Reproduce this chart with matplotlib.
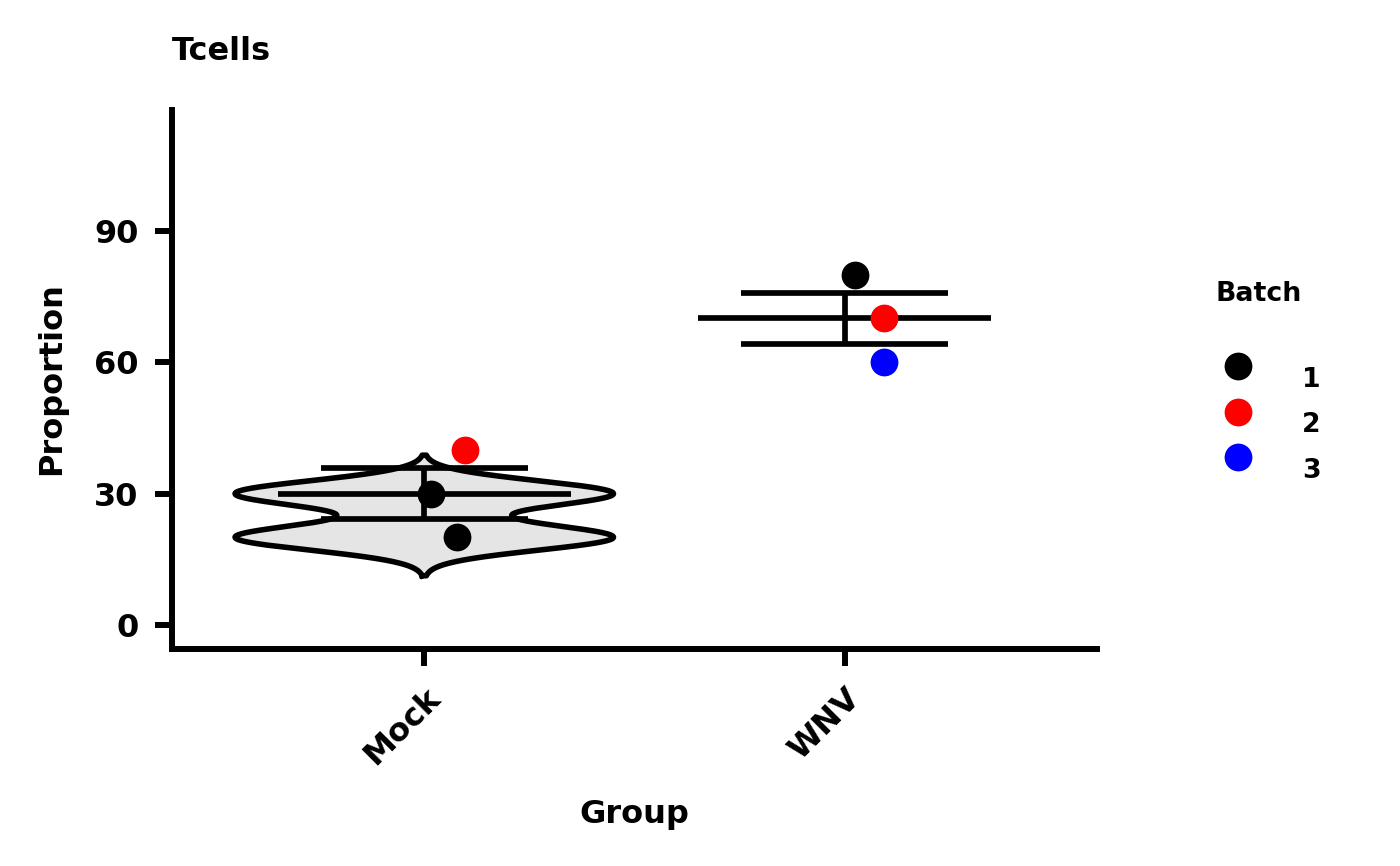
import numpy as np
import matplotlib
matplotlib.use("Agg")
import matplotlib.pyplot as plt
from matplotlib.lines import Line2D

groups = ["Mock", "WNV"]
point_group = ["Mock", "Mock", "Mock", "WNV", "WNV", "WNV"]
point_batch = [1, 1, 2, 1, 2, 3]
point_value = [30, 20, 40, 80, 70, 60]
point_jitter = [0.017, 0.079, 0.098, 0.024, 0.093, 0.093]
batch_colors = {1: "black", 2: "red", 3: "blue"}

plt.rcParams['font.family'] = ['DejaVu Sans']
plt.rcParams['font.weight'] = 'bold'

fig = plt.figure(figsize=(14, 8.66), dpi=100)
ax = fig.add_axes([172/1400, 1-649/866, (1097-172)/1400, (649-110)/866])

pos = {g: i + 1 for i, g in enumerate(groups)}
gv = np.array(point_group)
bv = np.array(point_batch)
yv = np.array(point_value, dtype=float)

# violins per group x batch (only groups with >= 2 points), like ggplot
for g in groups:
    for b in sorted(set(point_batch)):
        d = yv[(gv == g) & (bv == b)]
        if len(d) < 2:
            continue
        sd = d.std(ddof=1)
        iqr = np.subtract(*np.percentile(d, [75, 25]))
        bw = 0.9 * min(sd, iqr / 1.34) * len(d) ** -0.2
        yy = np.linspace(d.min() - 3 * bw, d.max() + 3 * bw, 400)
        dens = np.exp(-0.5 * ((yy[:, None] - d[None, :]) / bw) ** 2).sum(axis=1)
        w = dens / dens.max() * 0.45
        x0 = pos[g]
        ax.fill_betweenx(yy, x0 - w, x0 + w, facecolor="#e5e5e5", edgecolor="none", zorder=1)
        ax.plot(np.r_[x0 - w, (x0 + w)[::-1], x0 - w[0]], np.r_[yy, yy[::-1], yy[0]],
                color="black", lw=4.0, zorder=2, solid_joinstyle="round")

# mean +- SEM
lw_err = 4.1
for g in groups:
    d = yv[gv == g]
    m = d.mean()
    se = d.std(ddof=1) / np.sqrt(len(d))
    x0 = pos[g]
    ax.plot([x0 - 0.348, x0 + 0.348], [m, m], color="black", lw=lw_err, zorder=3, solid_capstyle="butt")
    ax.plot([x0 - 0.246, x0 + 0.246], [m - se, m - se], color="black", lw=lw_err, zorder=3, solid_capstyle="butt")
    ax.plot([x0 - 0.246, x0 + 0.246], [m + se, m + se], color="black", lw=lw_err, zorder=3, solid_capstyle="butt")
    ax.plot([x0, x0], [m - se, m + se], color="black", lw=lw_err, zorder=3, solid_capstyle="butt")

for g, b, v, j in zip(point_group, point_batch, point_value, point_jitter):
    ax.plot(pos[g] + j, v, 'o', color=batch_colors[b], ms=20, mew=0, zorder=4)

ax.set_xlim(0.4, 2.6)
ax.set_ylim(-5.5, 117.6)
ax.set_xticks([1, 2])
ax.set_xticklabels(groups, rotation=45, ha="right", rotation_mode="anchor")
ax.set_yticks([0, 30, 60, 90])
for s in ["top", "right"]:
    ax.spines[s].set_visible(False)
for s in ["left", "bottom"]:
    ax.spines[s].set_linewidth(4.3)
    ax.spines[s].set_capstyle("projecting")
ax.tick_params(axis='both', width=4.3, labelsize=23)
ax.tick_params(axis='y', length=12, pad=12)
ax.tick_params(axis='x', length=12, pad=12)
for t in ax.get_xticklabels() + ax.get_yticklabels():
    t.set_fontweight('bold')

fig.text(172/1400, 1-52/866, "Tcells", fontsize=23, fontweight='bold', ha='left', va='center')
fig.text(634/1400, 1-815/866, "Group", fontsize=23, fontweight='bold', ha='center', va='center')
fig.text(52/1400, 1-379/866, "Proportion", fontsize=23, fontweight='bold', ha='center', va='center', rotation=90)

# legend
fig.text(1216/1400, 1-294/866, "Batch", fontsize=19.3, fontweight='bold', ha='left', va='center')
for i, b in enumerate([1, 2, 3]):
    ym = 366 + i * 45.5
    fig.add_artist(Line2D([1238/1400], [1-ym/866], marker='o', ms=20, mew=0,
                          color=batch_colors[b], transform=fig.transFigure))
    fig.text(1302/1400, 1-(ym + 14)/866, str(b), fontsize=19.3, fontweight='bold', ha='left', va='center')

fig.savefig("out.png", dpi=100)
